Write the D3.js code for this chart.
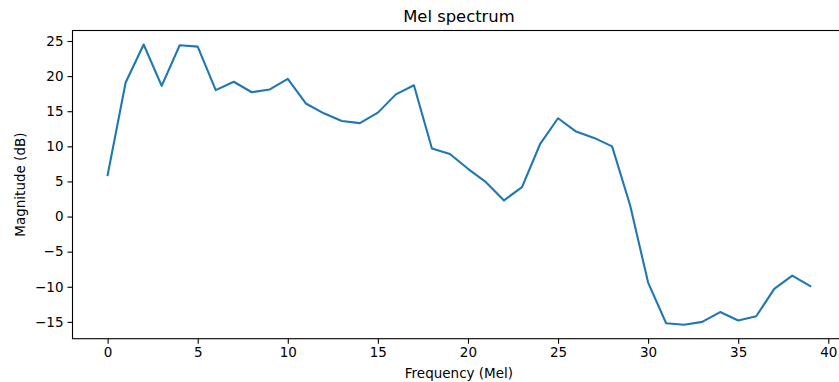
<!DOCTYPE html>
<html>
<head>
<meta charset="utf-8">
<script src="https://cdn.jsdelivr.net/npm/d3@7"></script>
<style>
  body { margin: 0; background: #fff; }
  svg { display: block; font-family: "DejaVu Sans", sans-serif; }
</style>
</head>
<body>
<svg id="chart" width="839" height="382"></svg>
<script>
// mel bands (x) and magnitude in dB (y)
const melBands = d3.range(0, 40)
const magnitude = [
  5.9, 19.1, 24.5, 18.6, 24.4, 24.2, 18.0, 19.2, 17.7, 18.1,
  19.6, 16.1, 14.7, 13.6, 13.3, 14.8, 17.4, 18.7, 9.7, 8.9,
  6.8, 4.9, 2.3, 4.2, 10.3, 14.0, 12.1, 11.2, 10.0, 1.6,
  -9.4, -15.2, -15.4, -15.0, -13.6, -14.8, -14.2, -10.3, -8.4, -9.9
]
const xTicks = [0, 5, 10, 15, 20, 25, 30, 35, 40]
const yTicks = [-15, -10, -5, 0, 5, 10, 15, 20, 25]

const svg = d3.select('#chart')
const lineColor = '#1f77b4'

// axes box (right side is cut off by the picture)
const axLeft = 72.5
const axRight = 845.4
const axTop = 30.5
const axBottom = 338.7

// matplotlib style 5% margins
const xPad = (d3.max(melBands) - d3.min(melBands)) * 0.05
const yPad = (d3.max(magnitude) - d3.min(magnitude)) * 0.05

const xScale = d3.scaleLinear()
  .domain([d3.min(melBands) - xPad, d3.max(melBands) + xPad])
  .range([axLeft, axRight])

const yScale = d3.scaleLinear()
  .domain([d3.min(magnitude) - yPad, d3.max(magnitude) + yPad])
  .range([axBottom, axTop])

const fmt = d => (d < 0 ? '\u2212' + Math.abs(d) : '' + d)

const xAxis = d3.axisBottom(xScale)
  .tickValues(xTicks)
  .tickFormat(fmt)
  .tickSizeInner(5)
  .tickSizeOuter(0)
  .tickPadding(4)

const yAxis = d3.axisLeft(yScale)
  .tickValues(yTicks)
  .tickFormat(fmt)
  .tickSizeInner(5)
  .tickSizeOuter(0)
  .tickPadding(4)

const gx = svg.append('g')
  .attr('transform', `translate(0, ${axBottom})`)
  .call(xAxis)

const gy = svg.append('g')
  .attr('transform', `translate(${axLeft}, 0)`)
  .call(yAxis)

svg.selectAll('.tick text')
  .style('font-size', '13.5px')
  .style('font-family', '"DejaVu Sans", sans-serif')
  .attr('fill', '#000')
svg.selectAll('.tick line')
  .attr('stroke', '#000')
  .attr('stroke-width', 1.1)
svg.selectAll('path.domain').remove()

// the line
const line = d3.line()
  .x((d, i) => xScale(melBands[i]))
  .y(d => yScale(d))

svg.append('path')
  .datum(magnitude)
  .attr('d', line)
  .attr('fill', 'none')
  .attr('stroke', lineColor)
  .attr('stroke-width', 2.1)
  .attr('stroke-linejoin', 'round')
  .attr('stroke-linecap', 'square')

// spines
svg.append('rect')
  .attr('x', axLeft)
  .attr('y', axTop)
  .attr('width', axRight - axLeft)
  .attr('height', axBottom - axTop)
  .attr('fill', 'none')
  .attr('stroke', '#000')
  .attr('stroke-width', 1.1)

// title and axis labels
svg.append('text')
  .attr('x', (axLeft + axRight) / 2)
  .attr('y', 22.3)
  .attr('text-anchor', 'middle')
  .style('font-size', '16.4px')
  .text('Mel spectrum')

svg.append('text')
  .attr('x', (axLeft + axRight) / 2)
  .attr('y', 378)
  .attr('text-anchor', 'middle')
  .style('font-size', '13.5px')
  .text('Frequency (Mel)')

svg.append('text')
  .attr('transform', `translate(25, ${(axTop + axBottom) / 2}) rotate(-90)`)
  .attr('text-anchor', 'middle')
  .style('font-size', '13.5px')
  .text('Magnitude (dB)')
</script>
</body>
</html>
